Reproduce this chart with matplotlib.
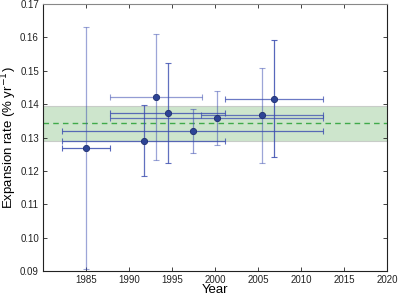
import matplotlib.pyplot as plt
import numpy as np

plt.rcParams['font.family'] = ['Liberation Sans', 'DejaVu Sans']

# данные: год, скорость расширения и интервалы
years = np.array([1985.0, 1991.7, 1993.1, 1994.5, 1997.4, 2000.2, 2005.5, 2006.9])
rates = np.array([0.1268, 0.1291, 0.1422, 0.1373, 0.1319, 0.1357, 0.1367, 0.1416])
rate_lo = np.array([0.0905, 0.1184, 0.1234, 0.1223, 0.1253, 0.1277, 0.1224, 0.1241])
rate_hi = np.array([0.1630, 0.1397, 0.1611, 0.1522, 0.1385, 0.1439, 0.1508, 0.1593])
year_lo = np.array([1982.25, 1982.25, 1987.8, 1987.8, 1982.25, 1987.8, 1998.4, 2001.2])
year_hi = np.array([1987.8, 2001.2, 1998.5, 2001.2, 2012.6, 2012.6, 2012.6, 2012.6])

mean_rate = 0.1342
band_lo, band_hi = 0.1289, 0.1395

# прозрачность вертикальных / горизонтальных отрезков
v_alpha = [0.5, 0.8, 0.5, 0.8, 0.55, 0.5, 0.5, 0.85]
h_alpha = [0.85, 0.8, 0.55, 0.8, 0.8, 0.75, 0.75, 0.75]

fig = plt.figure(figsize=(3.99, 2.97), dpi=100)
ax = fig.add_axes([0.108, 0.0875, 0.862, 0.899])

ax.axhspan(band_lo, band_hi, facecolor='#cde5cc', edgecolor='#c8ccc8', lw=0.8, zorder=0)
ax.axhline(mean_rate, color='#3faa4a', ls=(0, (4, 3)), lw=1.0, zorder=1)

line_col = '#3a4cb0'
for i in range(len(years)):
    ax.errorbar(years[i], rates[i],
                yerr=[[rates[i] - rate_lo[i]], [rate_hi[i] - rates[i]]],
                fmt='none', ecolor=line_col, alpha=v_alpha[i],
                elinewidth=0.9, capsize=2.2, capthick=0.8, zorder=2)
    ax.errorbar(years[i], rates[i],
                xerr=[[years[i] - year_lo[i]], [year_hi[i] - years[i]]],
                fmt='none', ecolor=line_col, alpha=h_alpha[i],
                elinewidth=0.9, capsize=2.2, capthick=0.8, zorder=2)

ax.plot(years, rates, 'o', ms=4.5, mfc='#2d4496', mec='#1f2f6e', mew=0.6, zorder=3)

ax.set_xlim(1980, 2020)
ax.set_ylim(0.09, 0.17)
ax.set_xticks(np.arange(1985, 2021, 5))
ax.set_yticks(np.arange(0.09, 0.1701, 0.01))
ax.set_yticklabels(['%.2f' % v for v in np.arange(0.09, 0.1701, 0.01)])
ax.tick_params(direction='in', top=True, right=True, labelsize=7, length=3,
               width=0.6, colors='#222222', pad=3)
for s in ax.spines.values():
    s.set_linewidth(0.8)
    s.set_color('#222222')
ax.spines['top'].set_color('#888888')

ax.set_xlabel('Year', fontsize=9.5)
ax.xaxis.set_label_coords(0.5, -0.05)
ax.set_ylabel('Expansion rate (% yr$^{-1}$)', fontsize=9.5)
ax.yaxis.set_label_coords(-0.07, 0.5)

fig.savefig('out.png', dpi=100)
